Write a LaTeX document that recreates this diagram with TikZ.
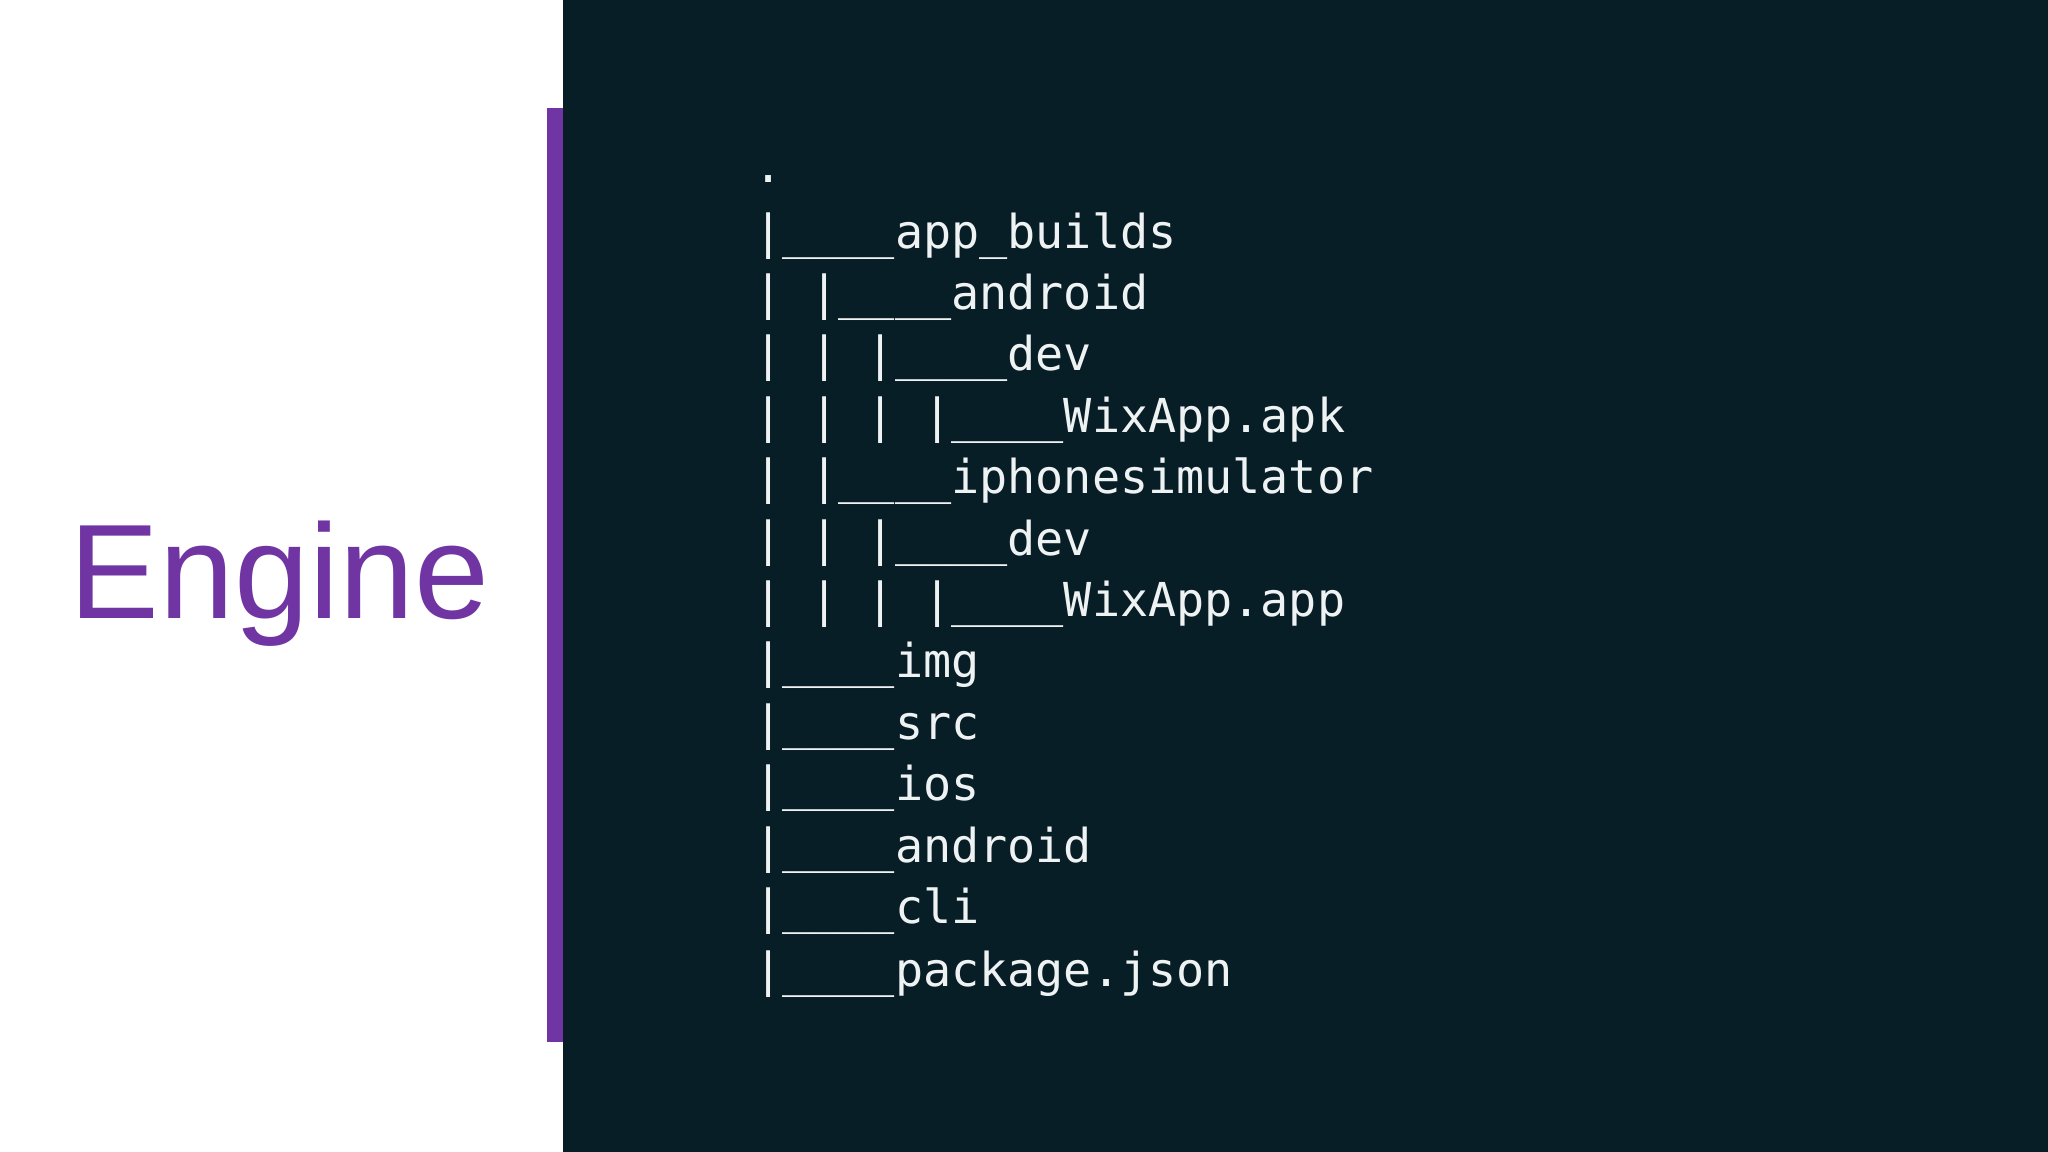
\documentclass[tikz,border=0pt]{standalone}
\usepackage{fontspec}
\setmainfont{Liberation Sans}
\newfontfamily\treefont{DejaVu Sans Mono}
\definecolor{bgdark}{HTML}{071E26}
\definecolor{purp}{HTML}{7035A3}
\definecolor{treetxt}{HTML}{EEF2F3}
\begin{document}
\begin{tikzpicture}[x=0.013061cm,y=-0.013061cm,
  treeline/.style={anchor=base west,inner sep=0pt,text=treetxt,font=\treefont\fontsize{13.3pt}{14pt}\selectfont}]
\useasboundingbox (0,0) rectangle (1568,882);
\fill[white] (0,0) rectangle (431,882);
\fill[bgdark] (431,0) rectangle (1568,882);
\fill[purp] (419,83) rectangle (431,798);
\node[text=purp,font=\fontsize{38.3pt}{42pt}\selectfont,inner sep=0pt] (title) at (214,447) {Engine};
\node[treeline] (l0) at (577,140) {.};
\node[treeline] (l1) at (577,190) {|\_\_\_\_app\_builds};
\node[treeline] (l2) at (577,237) {|\ |\_\_\_\_android};
\node[treeline] (l3) at (577,284) {|\ |\ |\_\_\_\_dev};
\node[treeline] (l4) at (577,331) {|\ |\ |\ |\_\_\_\_WixApp.apk};
\node[treeline] (l5) at (577,378) {|\ |\_\_\_\_iphonesimulator};
\node[treeline] (l6) at (577,425) {|\ |\ |\_\_\_\_dev};
\node[treeline] (l7) at (577,472) {|\ |\ |\ |\_\_\_\_WixApp.app};
\node[treeline] (l8) at (577,519) {|\_\_\_\_img};
\node[treeline] (l9) at (577,566) {|\_\_\_\_src};
\node[treeline] (l10) at (577,613) {|\_\_\_\_ios};
\node[treeline] (l11) at (577,660) {|\_\_\_\_android};
\node[treeline] (l12) at (577,707) {|\_\_\_\_cli};
\node[treeline] (l13) at (577,755) {|\_\_\_\_package.json};
\end{tikzpicture}
\end{document}
